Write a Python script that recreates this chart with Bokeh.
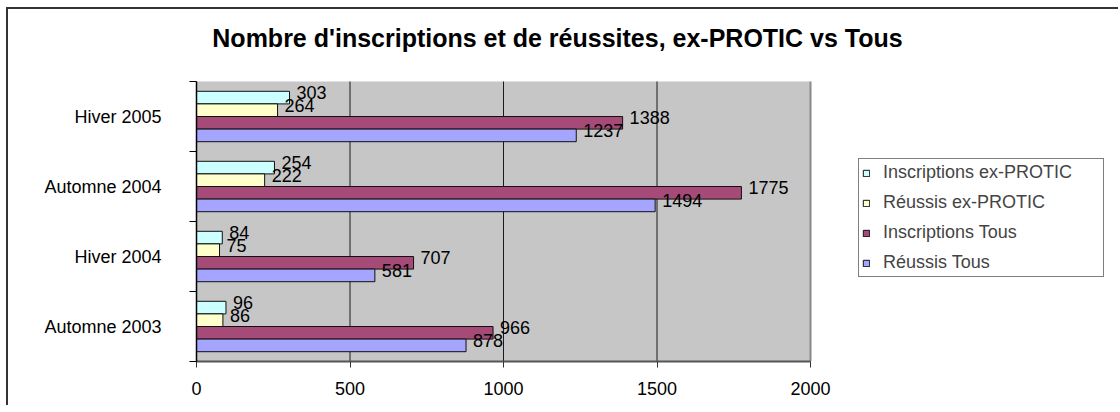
from bokeh.plotting import figure
from bokeh.models import (Range1d, FixedTicker, Legend, LegendItem, Label,
                          ColumnDataSource, BoxAnnotation)
from bokeh.embed import file_html
from bokeh.resources import INLINE
from bokeh.core.properties import value

# ---------------- data ----------------
categories = ["Automne 2003", "Hiver 2004", "Automne 2004", "Hiver 2005"]
series_names = ["Inscriptions ex-PROTIC", "Réussis ex-PROTIC",
                "Inscriptions Tous", "Réussis Tous"]
inscriptions_protic = [96, 84, 254, 303]
reussis_protic = [86, 75, 222, 264]
inscriptions_tous = [966, 707, 1775, 1388]
reussis_tous = [878, 581, 1494, 1237]
x_ticks = [0, 500, 1000, 1500, 2000]
title_text = "Nombre d'inscriptions et de réussites, ex-PROTIC vs Tous"

series_values = [inscriptions_protic, reussis_protic, inscriptions_tous, reussis_tous]
colors = ["#CCFFFF", "#FFFFCC", "#A64A78", "#A5A5FF"]

FONT = "Liberation Sans"

# ---------------- layout constants (pixels) ----------------
W, H = 1112, 398
B_LEFT, B_RIGHT, B_TOP, B_BOTTOM = 188, 10, 2, 46
AXIS_PX = 614          # pixel length of the value axis (0 .. max tick)
CAT_PX = 70            # pixel height of one category
frame_w = W - B_LEFT - B_RIGHT
frame_h = H - B_TOP - B_BOTTOM
x_max = x_ticks[-1]
n_cat = len(categories)

p = figure(width=W, height=H, output_backend="svg", toolbar_location=None,
           x_range=Range1d(0, x_max * frame_w / AXIS_PX),
           y_range=Range1d(0, frame_h / CAT_PX),
           min_border_left=B_LEFT, min_border_right=B_RIGHT,
           min_border_top=B_TOP, min_border_bottom=B_BOTTOM)
p.styles = {"margin-left": "6px", "margin-top": "7px",
            "border-top": "2px solid #333333", "border-left": "2px solid #333333"}
p.background_fill_color = "white"
p.border_fill_color = "white"
p.outline_line_color = None
p.grid.visible = False

# plot area (grey)
p.add_layout(BoxAnnotation(left=0, right=x_max, bottom=0, top=n_cat,
                           fill_color="#C6C6C6", fill_alpha=1,
                           line_color=None, level="underlay"))

# vertical grid lines and right border of plot area
grid_x = x_ticks[1:-1]
p.segment(x0=grid_x, y0=[0] * len(grid_x), x1=grid_x, y1=[n_cat] * len(grid_x),
          line_color="#1a1a1a", line_width=1)
p.segment(x0=[x_max], y0=[0], x1=[x_max], y1=[n_cat],
          line_color="#8a8a8a", line_width=2)

# bars
h = 0.18
offsets = [1.5 * h, 0.5 * h, -0.5 * h, -1.5 * h]
renderers = []
sources = []
for k, (vals, col) in enumerate(zip(series_values, colors)):
    ys = [i + 0.5 + offsets[k] for i in range(n_cat)]
    src = ColumnDataSource(dict(y=ys, right=vals, label=[str(v) for v in vals]))
    r = p.hbar(y="y", left=0, right="right", height=h, source=src,
               fill_color=col, line_color="#111111", line_width=1)
    renderers.append(r)
    sources.append(src)

for src in sources:
    p.text(x="right", y="y", text="label", source=src, x_offset=7, y_offset=-5,
           text_baseline="middle", text_align="left",
           text_font=value(FONT), text_font_size="18px", text_color="black")

# x axis
p.xaxis.bounds = (0, x_max)
p.xaxis.ticker = FixedTicker(ticks=x_ticks)
p.xaxis.axis_line_color = "#555555"
p.xaxis.axis_line_width = 2
p.xaxis.major_tick_line_color = "#333333"
p.xaxis.major_tick_out = 6
p.xaxis.major_tick_in = 0
p.xaxis.minor_tick_line_color = None
p.xaxis.major_label_standoff = 14
p.xaxis.major_label_text_font = FONT
p.xaxis.major_label_text_font_size = "18px"
p.xaxis.major_label_text_color = "black"

# y axis
centers = [i + 0.5 for i in range(n_cat)]
bounds = [float(i) for i in range(n_cat + 1)]
p.yaxis.bounds = (0, n_cat)
p.yaxis.ticker = FixedTicker(ticks=centers, minor_ticks=bounds)
p.yaxis.major_label_overrides = {c: name for c, name in zip(centers, categories)}
p.yaxis.axis_line_color = "black"
p.yaxis.axis_line_width = 1.5
p.yaxis.major_tick_line_color = None
p.yaxis.major_tick_out = 0
p.yaxis.major_tick_in = 0
p.yaxis.minor_tick_line_color = "black"
p.yaxis.minor_tick_out = 7
p.yaxis.minor_tick_in = 0
p.yaxis.major_label_standoff = 28
p.yaxis.major_label_text_font = FONT
p.yaxis.major_label_text_font_size = "18px"
p.yaxis.major_label_text_color = "black"

# title (inside the frame, screen units from frame bottom-left)
p.add_layout(Label(x=361, y=324, x_units="screen", y_units="screen",
                   text=title_text, text_align="center", text_baseline="alphabetic",
                   text_font=FONT, text_font_style="bold", text_font_size="25px",
                   text_color="black"))

# legend
legend = Legend(items=[LegendItem(label=n, renderers=[r])
                       for n, r in zip(series_names, renderers)],
                location=(662, 84))
legend.label_text_font = FONT
legend.label_text_font_size = "18px"
legend.glyph_width = 8
legend.glyph_height = 8
legend.label_height = 19
legend.label_width = 217
legend.spacing = 9
legend.padding = 3
legend.margin = 0
legend.label_standoff = 13
legend.border_line_color = "black"
legend.border_line_width = 1
legend.background_fill_color = "white"
legend.background_fill_alpha = 1
p.add_layout(legend)

open("out.html", "w").write(file_html(p, INLINE))
